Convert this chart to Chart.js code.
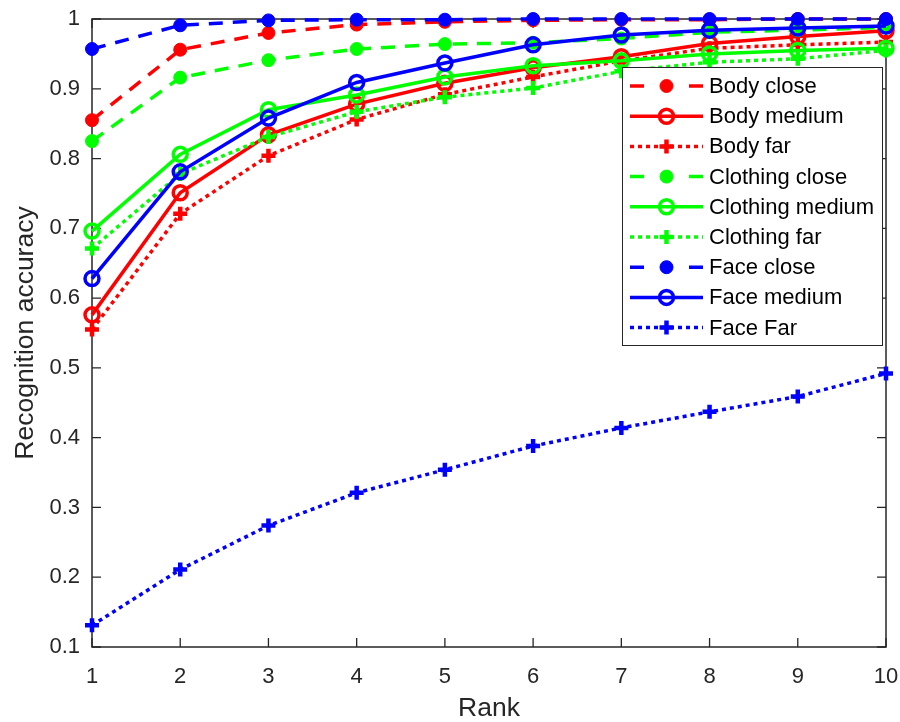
<!DOCTYPE html>
<html>
<head>
<meta charset="utf-8">
<script src="https://cdn.jsdelivr.net/npm/chart.js@4/dist/chart.umd.min.js"></script>
<style>
  html, body { margin: 0; padding: 0; background: #ffffff; }
  #wrap { width: 900px; height: 722px; }
</style>
</head>
<body>
<div id="wrap"><canvas id="chart" width="900" height="722"></canvas></div>
<script>
// Rank axis categories and y tick labels
const ranks = ['1', '2', '3', '4', '5', '6', '7', '8', '9', '10'];
const yTickLabels = ['0.1', '0.2', '0.3', '0.4', '0.5', '0.6', '0.7', '0.8', '0.9', '1'];

// Recognition accuracy per rank
const bodyClose      = [0.855, 0.956, 0.980, 0.992, 0.996, 0.998, 0.999, 0.999, 1.000, 1.000];
const bodyMedium     = [0.576, 0.751, 0.834, 0.878, 0.908, 0.930, 0.946, 0.965, 0.975, 0.983];
const bodyFar        = [0.555, 0.721, 0.804, 0.856, 0.892, 0.917, 0.940, 0.958, 0.963, 0.967];
const clothingClose  = [0.825, 0.916, 0.941, 0.957, 0.964, 0.966, 0.972, 0.981, 0.984, 0.988];
const clothingMedium = [0.696, 0.806, 0.870, 0.891, 0.917, 0.933, 0.940, 0.950, 0.955, 0.958];
const clothingFar    = [0.671, 0.778, 0.831, 0.867, 0.888, 0.901, 0.925, 0.938, 0.943, 0.955];
const faceClose      = [0.957, 0.991, 0.998, 0.999, 0.999, 1.000, 1.000, 1.000, 1.000, 1.000];
const faceMedium     = [0.628, 0.781, 0.858, 0.909, 0.937, 0.963, 0.977, 0.984, 0.987, 0.990];
const faceFar        = [0.131, 0.211, 0.274, 0.321, 0.354, 0.388, 0.414, 0.437, 0.459, 0.492];

const seriesLabels = ['Body close', 'Body medium', 'Body far',
                      'Clothing close', 'Clothing medium', 'Clothing far',
                      'Face close', 'Face medium', 'Face Far'];
const seriesData = [bodyClose, bodyMedium, bodyFar,
                    clothingClose, clothingMedium, clothingFar,
                    faceClose, faceMedium, faceFar];

const RED = '#ff0000', GREEN = '#00ff00', BLUE = '#0000ff';
const AXIS = '#262626';
const FONT = "'Liberation Sans', Arial, sans-serif";
const colors = [RED, RED, RED, GREEN, GREEN, GREEN, BLUE, BLUE, BLUE];
const kinds = ['close', 'medium', 'far'];

// line / marker style per distance kind
const styles = {
  close:  { dash: [14, 10], legendDash: [14, 45], pointStyle: 'circle', radius: 6.5, pbw: 1,   filled: true },
  medium: { dash: [],       legendDash: [],       pointStyle: 'circle', radius: 7,   pbw: 3.5, filled: false },
  far:    { dash: [4, 4],   legendDash: [4, 4],   pointStyle: 'cross',  radius: 7,   pbw: 4.5, filled: false }
};

const datasets = seriesData.map((d, i) => {
  const s = styles[kinds[i % 3]];
  const c = colors[i];
  return {
    label: seriesLabels[i],
    data: d,
    borderColor: c,
    borderWidth: 3.5,
    borderDash: s.dash,
    borderCapStyle: 'butt',
    borderJoinStyle: 'miter',
    tension: 0,
    fill: false,
    clip: false,
    pointStyle: s.pointStyle,
    pointRadius: s.radius,
    pointHoverRadius: s.radius,
    pointBorderWidth: s.pbw,
    pointBorderColor: c,
    pointBackgroundColor: s.filled ? c : 'rgba(0,0,0,0)',
    order: seriesData.length - i,
    _kind: kinds[i % 3]
  };
});

// box frame with inward ticks on all four sides
const framePlugin = {
  id: 'frame',
  beforeDatasetsDraw(chart) {
    const { ctx, chartArea: a, scales } = chart;
    const L = 9;
    ctx.save();
    ctx.strokeStyle = AXIS;
    ctx.lineWidth = 1.5;
    ctx.setLineDash([]);
    ctx.strokeRect(a.left, a.top, a.right - a.left, a.bottom - a.top);
    ctx.lineWidth = 1.3;
    ctx.beginPath();
    scales.x.ticks.forEach((t, i) => {
      const x = scales.x.getPixelForTick(i);
      ctx.moveTo(x, a.bottom); ctx.lineTo(x, a.bottom - L);
      ctx.moveTo(x, a.top); ctx.lineTo(x, a.top + L);
    });
    scales.y.ticks.forEach((t, i) => {
      const y = scales.y.getPixelForTick(i);
      ctx.moveTo(a.left, y); ctx.lineTo(a.left + L, y);
      ctx.moveTo(a.right, y); ctx.lineTo(a.right - L, y);
    });
    ctx.stroke();
    ctx.restore();
  }
};

// boxed legend inside the plot, upper right
const legendPlugin = {
  id: 'boxLegend',
  afterDraw(chart) {
    const { ctx } = chart;
    const bx = 622.5, by = 67.5, bw = 260, bh = 278;
    const rowH = 30.2, firstY = 86;
    ctx.save();
    ctx.fillStyle = '#ffffff';
    ctx.fillRect(bx, by, bw, bh);
    ctx.strokeStyle = AXIS;
    ctx.lineWidth = 1;
    ctx.strokeRect(bx, by, bw, bh);
    chart.data.datasets.forEach((ds, i) => {
      const y = firstY + i * rowH;
      const s = styles[ds._kind];
      ctx.save();
      ctx.strokeStyle = ds.borderColor;
      ctx.lineWidth = ds.borderWidth;
      ctx.lineCap = 'butt';
      ctx.setLineDash(s.legendDash);
      ctx.beginPath();
      ctx.moveTo(630, y);
      ctx.lineTo(703, y);
      ctx.stroke();
      ctx.setLineDash([]);
      ctx.strokeStyle = ds.pointBorderColor;
      ctx.fillStyle = ds.pointBackgroundColor;
      ctx.lineWidth = ds.pointBorderWidth;
      Chart.helpers.drawPoint(ctx, {
        pointStyle: ds.pointStyle, radius: ds.pointRadius,
        borderWidth: ds.pointBorderWidth, rotation: 0
      }, 666.5, y);
      ctx.restore();
      ctx.fillStyle = '#000000';
      ctx.font = '22px ' + FONT;
      ctx.textAlign = 'left';
      ctx.textBaseline = 'middle';
      ctx.fillText(ds.label, 709, y + 1);
    });
    ctx.restore();
  }
};

new Chart(document.getElementById('chart'), {
  type: 'line',
  data: { labels: ranks, datasets },
  options: {
    responsive: false,
    animation: false,
    devicePixelRatio: 1,
    events: [],
    layout: { autoPadding: false, padding: { top: 19, right: 14, left: 0, bottom: 0 } },
    plugins: { legend: { display: false }, tooltip: { enabled: false } },
    scales: {
      x: {
        type: 'category',
        offset: false,
        grid: { display: false, drawTicks: false },
        border: { display: false },
        ticks: { color: AXIS, font: { family: FONT, size: 22 }, padding: 17, maxRotation: 0, autoSkip: false },
        title: { display: true, text: 'Rank', color: AXIS, font: { family: FONT, size: 26.5, lineHeight: 1 }, padding: 0 },
        afterFit(scale) {
          scale.height = 75;
          scale.paddingLeft = 0;
          scale.paddingRight = 0;
        }
      },
      y: {
        min: 0.1,
        max: 1,
        grid: { display: false, drawTicks: false },
        border: { display: false },
        ticks: {
          stepSize: 0.1,
          color: AXIS,
          font: { family: FONT, size: 22 },
          padding: 12,
          callback: (v, i) => yTickLabels[i]
        },
        title: { display: true, text: 'Recognition accuracy', color: AXIS, font: { family: FONT, size: 26.5, lineHeight: 1 }, padding: { top: 12, bottom: 0 } },
        afterFit(scale) {
          scale.width = 92;
          scale.paddingTop = 0;
          scale.paddingBottom = 0;
        }
      }
    }
  },
  plugins: [framePlugin, legendPlugin]
});
</script>
</body>
</html>
